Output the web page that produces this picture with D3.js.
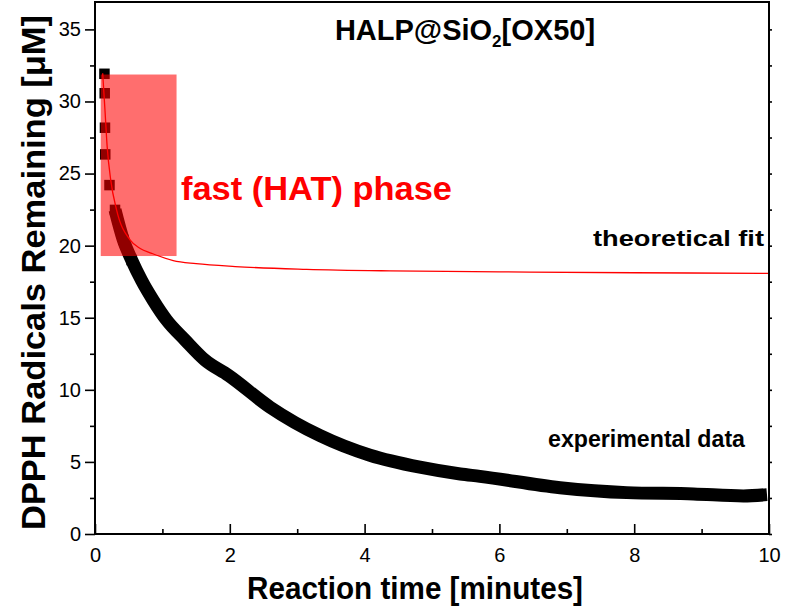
<!DOCTYPE html>
<html>
<head>
<meta charset="utf-8">
<script src="https://cdn.jsdelivr.net/npm/d3@7"></script>
<style>
  body { margin: 0; background: #fff; }
  text { font-family: "Liberation Sans", Arial, Helvetica, sans-serif; }
</style>
</head>
<body>
<svg id="chart" width="788" height="612"></svg>
<script>
// Early, well-separated readings of the DPPH decay (minutes, µM)
const burstTime  = [0.140, 0.144, 0.148, 0.152, 0.215];
const burstValue = [31.92, 30.57, 28.18, 26.33, 24.20];

// Continuous experimental trace (minutes, µM)
const expTime  = [0.297, 0.42, 0.544, 0.69, 0.865, 1.06, 1.335, 1.63, 1.98, 2.6, 3.34, 4.08, 4.82, 5.42, 5.71, 6.9, 7.89, 8.88, 9.62, 9.97];
const expValue = [22.48, 20.4, 19.0, 17.6, 16.2, 14.85, 13.46, 12.07, 11.0, 8.79, 6.82, 5.46, 4.63, 4.16, 4.0, 3.21, 2.87, 2.78, 2.64, 2.73];

// Theoretical fit of the fast phase (minutes, µM)
const fitTime  = [0.114, 0.148, 0.18, 0.233, 0.32, 0.52, 0.67, 0.84, 1.16, 1.5, 2.08, 3.14, 4.38, 6, 8, 10];
const fitValue = [31.96, 29.4, 26.9, 24.56, 22.48, 20.4, 19.8, 19.47, 18.96, 18.75, 18.55, 18.36, 18.25, 18.18, 18.12, 18.08];

// Highlighted fast (HAT) phase window
const fastPhaseTime  = [0.085, 1.21];
const fastPhaseValue = [19.28, 31.87];

const xTicks = [0, 2, 4, 6, 8, 10];
const xMinorTicks = [1, 3, 5, 7, 9];
const yTicks = [0, 5, 10, 15, 20, 25, 30, 35];
const yMinorTicks = [2.5, 7.5, 12.5, 17.5, 22.5, 27.5, 32.5];

const svg = d3.select("#chart");
const plotLeft = 95, plotRight = 769, plotTop = 2, plotBottom = 534;

const x = d3.scaleLinear().domain([0, 10]).range([plotLeft, plotRight]);
const y = d3.scaleLinear().domain([0, 36.9]).range([plotBottom, plotTop]);

const plot = svg.append("g");
plot.append("clipPath").attr("id", "clip")
  .append("rect").attr("x", plotLeft).attr("y", plotTop)
  .attr("width", plotRight - plotLeft).attr("height", plotBottom - plotTop);

const layer = plot.append("g").attr("clip-path", "url(#clip)");

// experimental band
const expPts = expTime.map((t, i) => [t, expValue[i]]);
layer.append("path")
  .datum(expPts)
  .attr("fill", "none")
  .attr("stroke", "#000")
  .attr("stroke-width", 13)
  .attr("stroke-linejoin", "round")
  .attr("d", d3.line().x(d => x(d[0])).y(d => y(d[1])).curve(d3.curveMonotoneX));

const sq = 10.5;
layer.selectAll("rect.burst")
  .data(burstTime.map((t, i) => [t, burstValue[i]]).concat(expPts.slice(0, 3)))
  .join("rect")
  .attr("class", "burst")
  .attr("x", d => x(d[0]) - sq / 2)
  .attr("y", d => y(d[1]) - sq / 2)
  .attr("width", sq).attr("height", sq)
  .attr("fill", "#000");

// fast phase highlight
layer.append("rect")
  .attr("x", x(fastPhaseTime[0]))
  .attr("y", y(fastPhaseValue[1]))
  .attr("width", x(fastPhaseTime[1]) - x(fastPhaseTime[0]))
  .attr("height", y(fastPhaseValue[0]) - y(fastPhaseValue[1]))
  .attr("fill", "#ff0000")
  .attr("fill-opacity", 0.57);

// theoretical fit
layer.append("path")
  .datum(fitTime.map((t, i) => [t, fitValue[i]]))
  .attr("fill", "none")
  .attr("stroke", "#ff0000")
  .attr("stroke-width", 1.3)
  .attr("d", d3.line().x(d => x(d[0])).y(d => y(d[1])).curve(d3.curveMonotoneX));

// axes
const axisStyle = g => {
  g.selectAll("path.domain").remove();
  g.selectAll("line").attr("stroke", "#000").attr("stroke-width", 1.6);
  g.selectAll("text").attr("font-size", 20).attr("fill", "#000")
    .style("font-family", "'Liberation Sans', Arial, sans-serif");
};

svg.append("g").attr("transform", `translate(${plotLeft},0)`)
  .call(d3.axisLeft(y).tickValues(yTicks).tickSize(10).tickPadding(4).tickFormat(d3.format("d")))
  .call(axisStyle);
svg.append("g").attr("transform", `translate(${plotLeft},0)`)
  .call(d3.axisLeft(y).tickValues(yMinorTicks).tickSize(5).tickFormat(""))
  .call(axisStyle);
svg.append("g").attr("transform", `translate(${plotRight},0)`)
  .call(d3.axisLeft(y).tickValues(yTicks.concat(yMinorTicks)).tickSize(-3).tickFormat(""))
  .call(axisStyle);

svg.append("g").attr("transform", `translate(0,${plotBottom})`)
  .call(d3.axisBottom(x).tickValues(xTicks).tickSizeInner(-10).tickSizeOuter(0).tickPadding(14).tickFormat(d3.format("d")))
  .call(axisStyle);
svg.append("g").attr("transform", `translate(0,${plotBottom})`)
  .call(d3.axisBottom(x).tickValues(xMinorTicks).tickSizeInner(-5).tickSizeOuter(0).tickFormat(""))
  .call(axisStyle);

// frame
svg.append("rect")
  .attr("x", plotLeft).attr("y", plotTop)
  .attr("width", plotRight - plotLeft).attr("height", plotBottom - plotTop)
  .attr("fill", "none").attr("stroke", "#000").attr("stroke-width", 2);

// titles and annotations
const title = svg.append("text")
  .attr("x", 465).attr("y", 40)
  .attr("text-anchor", "middle")
  .attr("font-size", 29).attr("font-weight", "bold");
title.append("tspan").text("HALP@SiO");
title.append("tspan").attr("font-size", 17).attr("dy", 7).text("2");
title.append("tspan").attr("dy", -7).text("[OX50]");

svg.append("text")
  .attr("x", 181).attr("y", 200)
  .attr("font-size", 33).attr("font-weight", "bold").attr("fill", "#ff0000")
  .attr("textLength", 271).attr("lengthAdjust", "spacingAndGlyphs")
  .text("fast (HAT) phase");

svg.append("text")
  .attr("x", 593).attr("y", 246)
  .attr("font-size", 22.5).attr("font-weight", "bold")
  .attr("textLength", 171).attr("lengthAdjust", "spacingAndGlyphs")
  .text("theoretical fit");

svg.append("text")
  .attr("x", 548).attr("y", 447)
  .attr("font-size", 23).attr("font-weight", "bold")
  .attr("textLength", 197).attr("lengthAdjust", "spacingAndGlyphs")
  .text("experimental data");

svg.append("text")
  .attr("x", 247).attr("y", 599)
  .attr("font-size", 31).attr("font-weight", "bold")
  .attr("textLength", 336).attr("lengthAdjust", "spacingAndGlyphs")
  .text("Reaction time [minutes]");

svg.append("text")
  .attr("transform", "translate(45,530) rotate(-90)")
  .attr("font-size", 33).attr("font-weight", "bold")
  .attr("textLength", 515).attr("lengthAdjust", "spacingAndGlyphs")
  .text("DPPH Radicals Remaining [μM]");
</script>
</body>
</html>
